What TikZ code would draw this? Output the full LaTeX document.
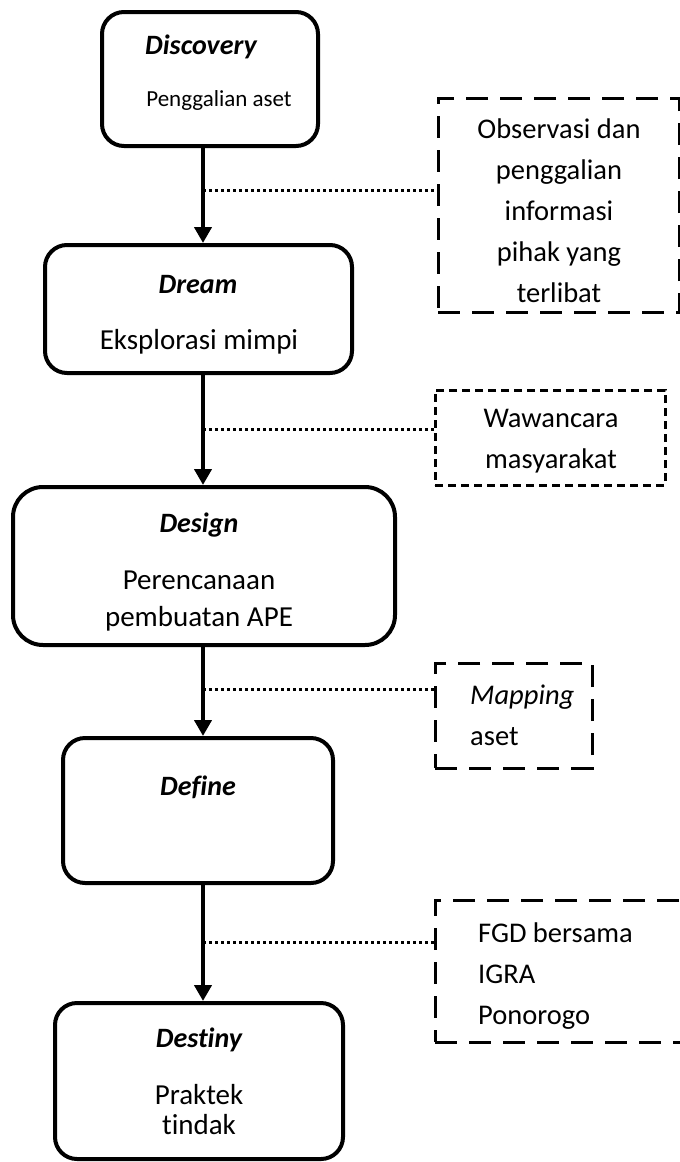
\documentclass[tikz,border=0pt]{standalone}
\usepackage{fontspec}
\setmainfont{Carlito}[Ligatures=NoCommon]
\usetikzlibrary{positioning, arrows.meta, calc}

\begin{document}
\begin{tikzpicture}[x=1pt, y=-1pt,
    stage/.style = {draw, line width=4pt, rounded corners=22pt, inner sep=0pt},
    note/.style = {draw, line width=3pt, dash pattern=on 22pt off 12pt, inner sep=0pt},
    stagetitle/.style = {inner sep=0pt, font=\fontsize{28}{34}\selectfont\bfseries\itshape},
    stagetext/.style = {inner sep=0pt, align=center, font=\fontsize{29}{37}\selectfont},
    notetext/.style = {inner sep=0pt, font=\fontsize{28.5}{41}\selectfont},
    flow/.style = {line width=4pt, -{Triangle[width=17pt, length=16pt]}},
    link/.style = {line width=3pt, dash pattern=on 3pt off 3pt}]
    \useasboundingbox (0,0) rectangle (680,1162);

    % Stage boxes (left column)
    \node[stage, minimum width=216pt, minimum height=134pt] (disc) at (210,79) {};
    \node[stage, minimum width=307pt, minimum height=128pt] (dream) at (198.5,309) {};
    \node[stage, minimum width=382pt, minimum height=158pt, rounded corners=30pt] (design) at (204,566) {};
    \node[stage, minimum width=270pt, minimum height=145pt] (define) at (198,810.5) {};
    \node[stage, minimum width=288pt, minimum height=156pt] (destiny) at (199,1081) {};

    % Stage texts
    \node[stagetitle] (disc-t) at (201,47) {Discovery};
    \node[stagetext, font=\fontsize{23}{30}\selectfont] (disc-b) at (219,100) {Penggalian aset};
    \node[stagetitle] (dream-t) at (198,285) {Dream};
    \node[stagetext] (dream-b) at (199,342) {Eksplorasi mimpi};
    \node[stagetitle] (design-t) at (199,525) {Design};
    \node[stagetext] (design-b) at (199,601) {Perencanaan\\pembuatan APE};
    \node[stagetitle] (define-t) at (198,787) {Define};
    \node[stagetitle] (destiny-t) at (199,1040) {Destiny};
    \node[stagetext, font=\fontsize{29}{30}\selectfont] (destiny-b) at (199,1110) {Praktek\\tindak};

    % Activity boxes (right column, dashed)
    \node[note, minimum width=241pt, minimum height=214pt] (obs) at (558.5,205) {};
    \node[note, minimum width=230pt, minimum height=95pt, dash pattern=on 8pt off 5pt] (waw) at (550,437.5) {};
    \node[note, minimum width=157pt, minimum height=105pt] (map) at (513.5,715.5) {};
    \node[note, minimum width=255pt, minimum height=142pt] (fgd) at (562.5,971) {};

    % Activity texts
    \node[notetext, align=center] (obs-t) at (559,211) {Observasi dan\\penggalian\\informasi\\pihak yang\\terlibat};
    \node[notetext, align=center] (waw-t) at (551,441) {Wawancara\\masyarakat};
    \node[notetext, align=left, anchor=west] (map-t) at (470,715) {\textit{Mapping}\\aset};
    \node[notetext, align=left, anchor=west] (fgd-t) at (478,976) {FGD bersama\\IGRA\\Ponorogo};

    % Spine and branch points
    \coordinate (spine) at (203,0);
    \coordinate (b1) at (203,190);
    \coordinate (b2) at (203,429);
    \coordinate (b3) at (203,689);
    \coordinate (b4) at (203,942);

    \draw[flow] (disc.south -| spine) -- (dream.north -| spine);
    \draw[flow] (dream.south -| spine) -- (design.north -| spine);
    \draw[flow] (design.south -| spine) -- (define.north -| spine);
    \draw[flow] (define.south -| spine) -- (destiny.north -| spine);

    \draw[link] (b1) -- (b1 -| obs.west);
    \draw[link] (b2) -- (b2 -| waw.west);
    \draw[link] (b3) -- (b3 -| map.west);
    \draw[link] (b4) -- (b4 -| fgd.west);
\end{tikzpicture}
\end{document}
